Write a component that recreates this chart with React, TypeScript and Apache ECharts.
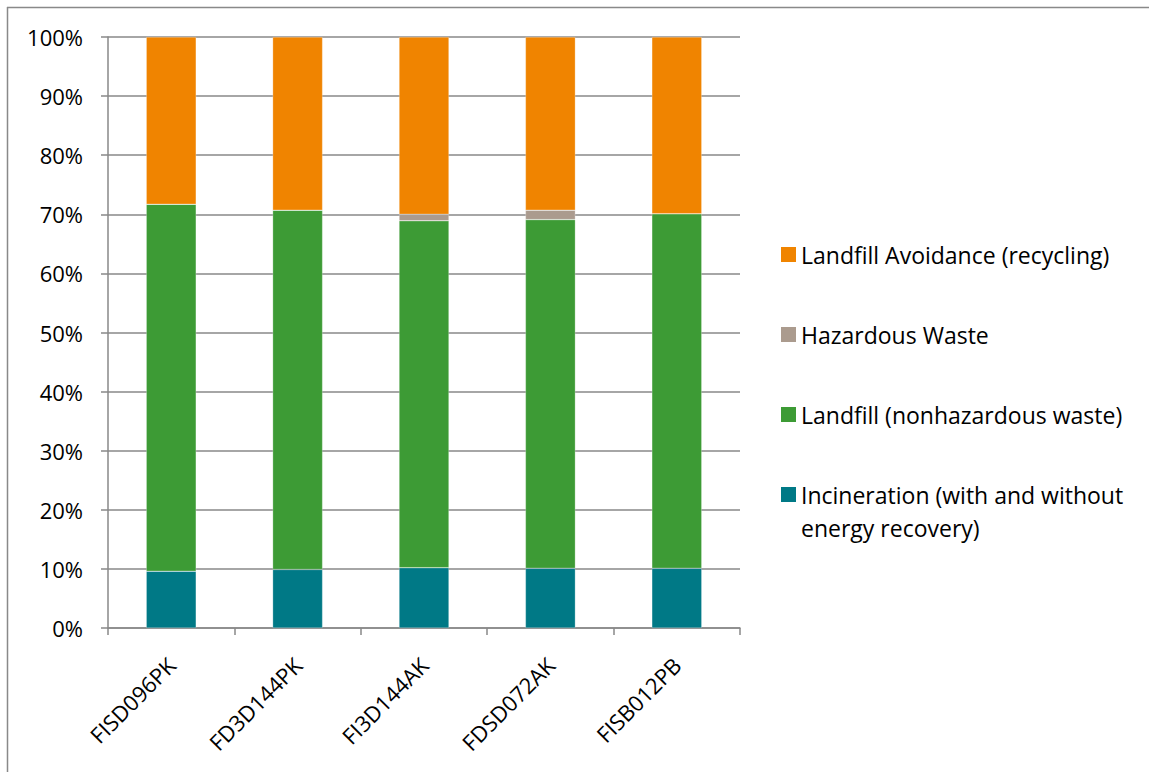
import React, { useEffect, useRef } from "react";
import * as echarts from "echarts";

const categories = ["FISD096PK", "FD3D144PK", "FI3D144AK", "FDSD072AK", "FISB012PB"];
const incineration = [9.6, 9.9, 10.2, 10.1, 10.1];
const landfill = [62.1, 60.8, 58.7, 59.0, 60.0];
const hazardous = [0, 0, 1.1, 1.6, 0];
const avoidance = [28.3, 29.3, 30.0, 29.3, 29.9];

const seriesNames = [
  "Incineration (with and without energy recovery)",
  "Landfill (nonhazardous waste)",
  "Hazardous Waste",
  "Landfill Avoidance (recycling)",
];
const colors = ["#007986", "#3d9b35", "#ab9b8e", "#f08400"];
const FONT = "'Open Sans', 'Noto Sans', sans-serif";
const gridColor = "#898989";

export default function App() {
  const ref = useRef<HTMLDivElement>(null);
  useEffect(() => {
    if (!ref.current) return;
    const chart = echarts.init(ref.current, null, { renderer: "svg" });
    const dataSets = [incineration, landfill, hazardous, avoidance];
    chart.setOption({
      animation: false,
      grid: { left: 108, right: 409, top: 37, bottom: 144 },
      xAxis: {
        type: "category",
        data: categories,
        axisLine: { lineStyle: { color: gridColor, width: 1.5 } },
        axisTick: { show: true, length: 7, lineStyle: { color: gridColor, width: 1.5 } },
        axisLabel: {
          rotate: 45,
          fontSize: 22,
          fontFamily: FONT,
          color: "#000",
          margin: 33,
          interval: 0,
        },
      },
      yAxis: {
        type: "value",
        min: 0,
        max: 100,
        interval: 10,
        axisLine: { show: true, lineStyle: { color: gridColor, width: 1.5 } },
        axisTick: { show: true, length: 7, lineStyle: { color: gridColor, width: 1.5 } },
        splitLine: { show: true, lineStyle: { color: gridColor, width: 1.5 } },
        axisLabel: {
          formatter: "{value}%",
          fontSize: 22,
          fontFamily: FONT,
          color: "#000",
          margin: 25,
        },
      },
      legend: {
        orient: "vertical",
        left: 781,
        top: 242.5,
        padding: 0,
        itemWidth: 15,
        itemHeight: 15,
        itemGap: 56,
        icon: "rect",
        data: [seriesNames[3], seriesNames[2], seriesNames[1], seriesNames[0]],
        formatter: (name: string) =>
          name === seriesNames[0] ? "Incineration (with and without" : name,
        textStyle: { fontSize: 23, fontFamily: FONT, color: "#000", lineHeight: 24 },
        itemStyle: { borderWidth: 0 },
      },
      graphic: [
        { type: "line", shape: { x1: 7, y1: 7.5, x2: 1149, y2: 7.5 }, style: { stroke: gridColor, lineWidth: 1.5 } },
        { type: "line", shape: { x1: 7.5, y1: 7, x2: 7.5, y2: 772 }, style: { stroke: gridColor, lineWidth: 1.5 } },
        {
          type: "text",
          x: 801,
          y: 528,
          style: {
            text: "energy recovery)",
            fontSize: 23,
            fontFamily: FONT,
            fill: "#000",
            verticalAlign: "middle",
          },
        },
      ],
      series: seriesNames.map((n, i) => ({
        name: n,
        type: "bar",
        stack: "total",
        barWidth: "39.5%",
        data: dataSets[i],
        itemStyle: { color: colors[i], borderColor: "rgba(255,255,255,0.5)", borderWidth: 0.5 },
      })),
    });
    return () => chart.dispose();
  }, []);
  return (
    <div
      ref={ref}
      style={{ position: "fixed", left: 0, top: 0, width: 1149, height: 772, background: "#fff" }}
    />
  );
}
